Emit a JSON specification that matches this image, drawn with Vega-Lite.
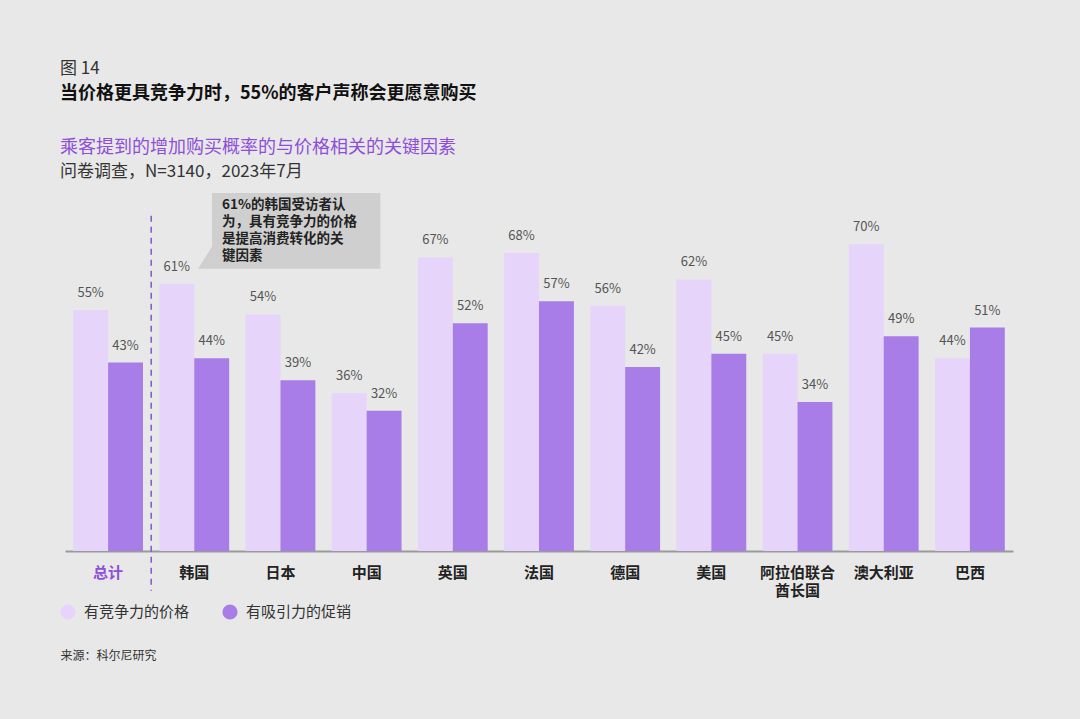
{
  "$schema": "https://vega.github.io/schema/vega-lite/v6.json",
  "background": "#e8e8e8",
  "padding": {"left": 60, "top": 60, "right": 68, "bottom": 72},
  "config": {"font": "Noto Sans CJK SC", "view": {"stroke": null}},
  "title": {
    "text": "图 14",
    "subtitle": "当价格更具竞争力时，55%的客户声称会更愿意购买",
    "anchor": "start",
    "font": "Noto Sans CJK SC",
    "fontSize": 17,
    "fontWeight": "normal",
    "color": "#333333",
    "subtitleFont": "Noto Sans CJK SC",
    "subtitleFontSize": 18,
    "subtitleFontWeight": "bold",
    "subtitleColor": "#111111",
    "subtitlePadding": 7,
    "offset": 35
  },
  "vconcat": [
    {
      "width": 948,
      "height": 368,
      "title": {
        "text": "乘客提到的增加购买概率的与价格相关的关键因素",
        "subtitle": "问卷调查，N=3140，2023年7月",
        "anchor": "start",
        "font": "Noto Sans CJK SC",
        "fontSize": 18,
        "fontWeight": "normal",
        "color": "#8e4fd8",
        "subtitleFont": "Noto Sans CJK SC",
        "subtitleFontSize": 17,
        "subtitleColor": "#333333",
        "subtitlePadding": 7,
        "offset": 3
      },
      "layer": [
        {
          "data": {
            "values": [
              {"country": "总计", "series": "有竞争力的价格", "value": 0.55},
              {"country": "总计", "series": "有吸引力的促销", "value": 0.43},
              {"country": "韩国", "series": "有竞争力的价格", "value": 0.61},
              {"country": "韩国", "series": "有吸引力的促销", "value": 0.44},
              {"country": "日本", "series": "有竞争力的价格", "value": 0.54},
              {"country": "日本", "series": "有吸引力的促销", "value": 0.39},
              {"country": "中国", "series": "有竞争力的价格", "value": 0.36},
              {"country": "中国", "series": "有吸引力的促销", "value": 0.32},
              {"country": "英国", "series": "有竞争力的价格", "value": 0.67},
              {"country": "英国", "series": "有吸引力的促销", "value": 0.52},
              {"country": "法国", "series": "有竞争力的价格", "value": 0.68},
              {"country": "法国", "series": "有吸引力的促销", "value": 0.57},
              {"country": "德国", "series": "有竞争力的价格", "value": 0.56},
              {"country": "德国", "series": "有吸引力的促销", "value": 0.42},
              {"country": "美国", "series": "有竞争力的价格", "value": 0.62},
              {"country": "美国", "series": "有吸引力的促销", "value": 0.45},
              {"country": "阿拉伯联合酋长国", "series": "有竞争力的价格", "value": 0.45},
              {"country": "阿拉伯联合酋长国", "series": "有吸引力的促销", "value": 0.34},
              {"country": "澳大利亚", "series": "有竞争力的价格", "value": 0.70},
              {"country": "澳大利亚", "series": "有吸引力的促销", "value": 0.49},
              {"country": "巴西", "series": "有竞争力的价格", "value": 0.44},
              {"country": "巴西", "series": "有吸引力的促销", "value": 0.51}
            ]
          },
          "encoding": {
            "x": {
              "field": "country",
              "type": "nominal",
              "sort": ["总计", "韩国", "日本", "中国", "英国", "法国", "德国", "美国", "阿拉伯联合酋长国", "澳大利亚", "巴西"],
              "scale": {"paddingInner": 0.19, "paddingOuter": 0.095},
              "axis": {
                "title": "来源：科尔尼研究",
                "titleFont": "Noto Sans CJK SC",
                "titleFontSize": 12,
                "titleFontWeight": "normal",
                "titleColor": "#333333",
                "titleAnchor": "start",
                "titleAlign": "left",
                "titleX": -5,
                "titleY": 104,
                "titleBaseline": "middle",
                "labelAngle": 0,
                "labelFont": "Noto Sans CJK SC",
                "labelFontSize": 15,
                "labelFontWeight": "bold",
                "labelColor": {"condition": {"test": "datum.value == '总计'", "value": "#8e4fd8"}, "value": "#222222"},
                "labelExpr": "datum.value == '阿拉伯联合酋长国' ? ['阿拉伯联合', '酋长国'] : datum.label",
                "labelLineHeight": 18,
                "labelPadding": 14,
                "labelBaseline": "top",
                "ticks": false,
                "domainColor": "#9a9a9a",
                "domainWidth": 2
              }
            },
            "xOffset": {"field": "series", "type": "nominal", "sort": ["有竞争力的价格", "有吸引力的促销"]},
            "y": {"field": "value", "type": "quantitative", "scale": {"domain": [0, 0.84], "nice": false}, "axis": null}
          },
          "layer": [
            {
              "mark": {"type": "bar"},
              "encoding": {
                "color": {
                  "field": "series",
                  "type": "nominal",
                  "sort": ["有竞争力的价格", "有吸引力的促销"],
                  "scale": {"domain": ["有竞争力的价格", "有吸引力的促销"], "range": ["#e6d4fb", "#a97de8"]},
                  "legend": {
                    "title": null,
                    "orient": "none",
                    "legendX": -5,
                    "legendY": 421,
                    "direction": "horizontal",
                    "symbolType": "circle",
                    "symbolSize": 230,
                    "symbolStrokeWidth": 0,
                    "labelFont": "Noto Sans CJK SC",
                    "labelFontSize": 15,
                    "labelColor": "#333333",
                    "labelOffset": 8,
                    "columnPadding": 32
                  }
                }
              }
            },
            {
              "mark": {"type": "text", "baseline": "bottom", "dy": -10, "fontSize": 13, "color": "#555555", "font": "Noto Sans CJK SC"},
              "encoding": {"text": {"field": "value", "type": "quantitative", "format": ".0%"}}
            }
          ]
        },
        {
          "encoding": {
            "x": {"type": "quantitative", "scale": {"domain": [0, 11], "nice": false, "zero": false}, "axis": null}
          },
          "layer": [
            {
              "data": {"values": [{"x": 1.706, "x2": 3.66, "y": 0.817, "y2": 0.644}]},
              "mark": {"type": "rect", "color": "#cfcfcf"},
              "encoding": {
                "x": {"field": "x", "type": "quantitative"},
                "x2": {"field": "x2"},
                "y": {"field": "y", "type": "quantitative"},
                "y2": {"field": "y2"}
              }
            },
            {
              "data": {"values": [{"x": 1.543, "y": 0.644, "y2": 0.644}, {"x": 1.706, "y": 0.695, "y2": 0.644}]},
              "mark": {"type": "area", "color": "#cfcfcf"},
              "encoding": {
                "x": {"field": "x", "type": "quantitative"},
                "y": {"field": "y", "type": "quantitative"},
                "y2": {"field": "y2"}
              }
            },
            {
              "data": {"values": [{"x": 1.822, "y": 0.805, "note": "61%的韩国受访者认\n为，具有竞争力的价格\n是提高消费转化的关\n键因素"}]},
              "mark": {"type": "text", "align": "left", "baseline": "top", "fontSize": 13.5, "fontWeight": "bold", "lineHeight": 17, "lineBreak": "\n", "color": "#222222", "font": "Noto Sans CJK SC"},
              "encoding": {
                "x": {"field": "x", "type": "quantitative"},
                "y": {"field": "y", "type": "quantitative"},
                "text": {"field": "note"}
              }
            },
            {
              "data": {"values": [{"x": 1.0, "y": 0.765, "y2": -0.091}]},
              "mark": {"type": "rule", "color": "#8057c8", "strokeWidth": 1.5, "strokeDash": [6, 5]},
              "encoding": {
                "x": {"field": "x", "type": "quantitative"},
                "y": {"field": "y", "type": "quantitative"},
                "y2": {"field": "y2"}
              }
            }
          ]
        }
      ],
      "resolve": {"scale": {"x": "independent"}}
    }
  ]
}
